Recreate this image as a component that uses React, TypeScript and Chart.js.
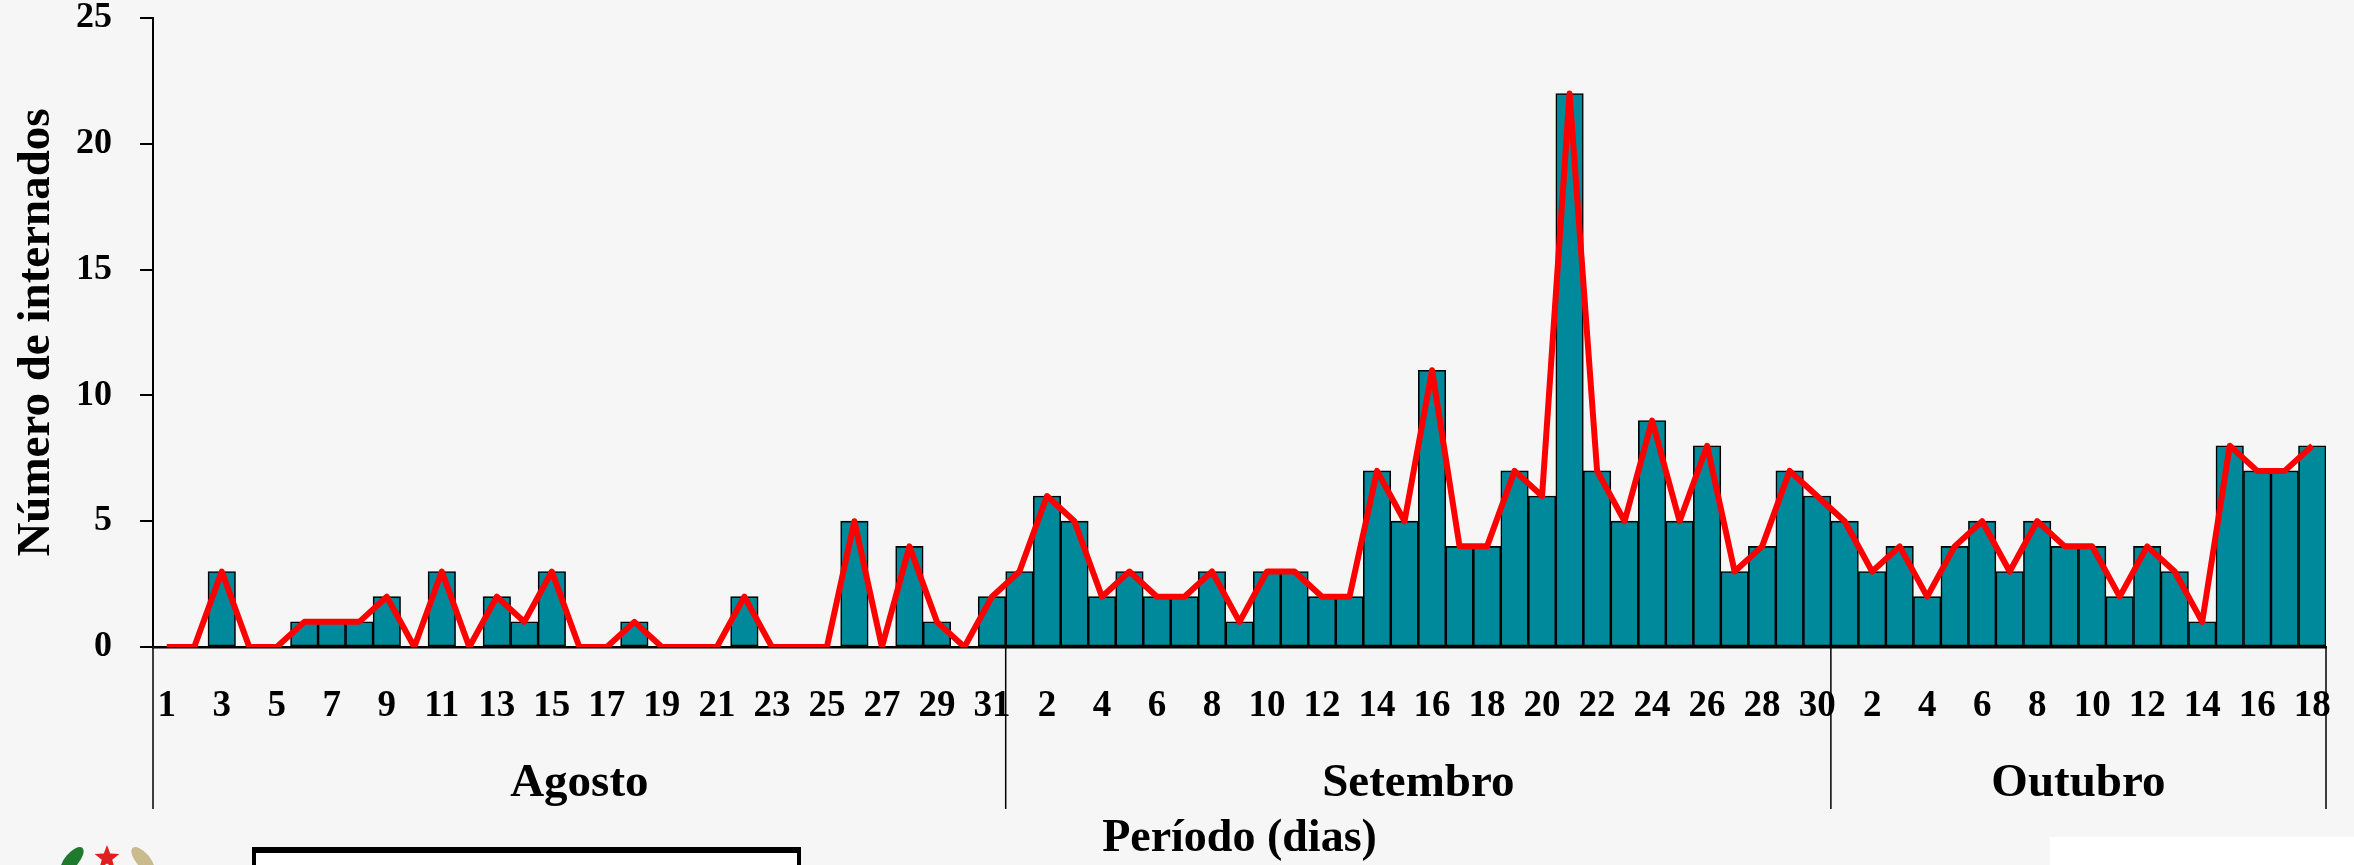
import { useEffect, useRef } from 'react';
import { Chart, registerables } from 'chart.js';

Chart.register(...registerables);

const monthNames = ['Agosto', 'Setembro', 'Outubro'];

const augustDays = [1, 2, 3, 4, 5, 6, 7, 8, 9, 10, 11, 12, 13, 14, 15, 16, 17, 18, 19, 20, 21, 22, 23, 24, 25, 26, 27, 28, 29, 30, 31];
const septemberDays = [1, 2, 3, 4, 5, 6, 7, 8, 9, 10, 11, 12, 13, 14, 15, 16, 17, 18, 19, 20, 21, 22, 23, 24, 25, 26, 27, 28, 29, 30];
const octoberDays = [1, 2, 3, 4, 5, 6, 7, 8, 9, 10, 11, 12, 13, 14, 15, 16, 17, 18];

const augustValues = [0, 0, 3, 0, 0, 1, 1, 1, 2, 0, 3, 0, 2, 1, 3, 0, 0, 1, 0, 0, 0, 2, 0, 0, 0, 5, 0, 4, 1, 0, 2];
const septemberValues = [3, 6, 5, 2, 3, 2, 2, 3, 1, 3, 3, 2, 2, 7, 5, 11, 4, 4, 7, 6, 22, 7, 5, 9, 5, 8, 3, 4, 7, 6];
const octoberValues = [5, 3, 4, 2, 4, 5, 3, 5, 4, 4, 2, 4, 3, 1, 8, 7, 7, 8];

const augustTicks = [1, 3, 5, 7, 9, 11, 13, 15, 17, 19, 21, 23, 25, 27, 29, 31];
const septemberTicks = [2, 4, 6, 8, 10, 12, 14, 16, 18, 20, 22, 24, 26, 28, 30];
const octoberTicks = [2, 4, 6, 8, 10, 12, 14, 16, 18];

const yTitle = 'Número de internados';
const xTitle = 'Período (dias)';

const FONT = '"Liberation Serif", "Times New Roman", serif';
const BAR_COLOR = '#00889b';
const LINE_COLOR = '#ff0000';
const BG = '#f6f6f6';

export default function App() {
  const ref = useRef<HTMLCanvasElement>(null);

  useEffect(() => {
    const monthDays = [augustDays, septemberDays, octoberDays];
    const monthTicks = [augustTicks, septemberTicks, octoberTicks];
    const labels: string[] = [];
    const tickText: string[] = [];
    const monthStart: number[] = [];
    monthDays.forEach((days, m) => {
      monthStart.push(labels.length);
      days.forEach((d) => {
        labels.push(String(d));
        tickText.push(monthTicks[m].includes(d) ? String(d) : '');
      });
    });
    monthStart.push(labels.length);
    const values = [...augustValues, ...septemberValues, ...octoberValues];

    const zeroPad = (s: any) => {
      s.paddingTop = 0;
      s.paddingBottom = 0;
      s.paddingLeft = 0;
      s.paddingRight = 0;
    };

    const decor = {
      id: 'decor',
      beforeDraw(chart: any) {
        const { ctx, width, height } = chart;
        ctx.save();
        ctx.fillStyle = BG;
        ctx.fillRect(0, 0, width, height);
        ctx.restore();
      },
      afterDraw(chart: any) {
        const { ctx, chartArea } = chart;
        const xs = chart.scales.x;
        const yBase = chartArea.bottom;
        ctx.save();
        // month separators
        ctx.strokeStyle = '#000';
        ctx.lineWidth = 1.5;
        monthStart.forEach((s) => {
          const px = xs.getPixelForValue(s - 0.5);
          ctx.beginPath();
          ctx.moveTo(px, yBase);
          ctx.lineTo(px, 809);
          ctx.stroke();
        });
        // month labels
        ctx.fillStyle = '#000';
        ctx.font = `bold 47px ${FONT}`;
        ctx.textAlign = 'center';
        ctx.textBaseline = 'alphabetic';
        monthNames.forEach((name, m) => {
          const a = xs.getPixelForValue(monthStart[m] - 0.5);
          const b = xs.getPixelForValue(monthStart[m + 1] - 0.5);
          ctx.fillText(name, (a + b) / 2, 796);
        });
        // bottom-right white patch
        ctx.fillStyle = '#ffffff';
        ctx.fillRect(2050, 837, 304, 28);
        // bottom box
        ctx.fillStyle = '#ffffff';
        ctx.fillRect(252, 848, 549, 17);
        ctx.fillStyle = '#000';
        ctx.fillRect(252, 847, 549, 6);
        ctx.fillRect(252, 847, 4, 18);
        ctx.fillRect(797, 847, 4, 18);
        // emblem (approximation)
        ctx.fillStyle = '#1f7a2e';
        ctx.beginPath();
        ctx.ellipse(72, 860, 7, 16, 0.7, 0, Math.PI * 2);
        ctx.fill();
        ctx.fillStyle = '#c9bb8c';
        ctx.beginPath();
        ctx.ellipse(143, 860, 7, 16, -0.7, 0, Math.PI * 2);
        ctx.fill();
        ctx.fillStyle = '#e02020';
        ctx.beginPath();
        const cx = 107, cy = 858, R = 13, r = 5.5;
        for (let i = 0; i < 10; i++) {
          const ang = -Math.PI / 2 + (i * Math.PI) / 5;
          const rad = i % 2 === 0 ? R : r;
          const px = cx + rad * Math.cos(ang);
          const py = cy + rad * Math.sin(ang);
          if (i === 0) ctx.moveTo(px, py);
          else ctx.lineTo(px, py);
        }
        ctx.closePath();
        ctx.fill();
        ctx.restore();
      },
    };

    const chart = new Chart(ref.current as HTMLCanvasElement, {
      type: 'bar',
      data: {
        labels,
        datasets: [
          {
            type: 'line',
            data: values,
            borderColor: LINE_COLOR,
            borderWidth: 6,
            pointRadius: 0,
            tension: 0,
            borderJoinStyle: 'round',
            order: 0,
          } as any,
          {
            type: 'bar',
            data: values,
            backgroundColor: BAR_COLOR,
            borderColor: '#000',
            borderWidth: 1.6,
            borderSkipped: false,
            barPercentage: 1,
            categoryPercentage: 1,
            order: 1,
          } as any,
        ],
      },
      options: {
        responsive: false,
        animation: false,
        layout: { padding: { top: 18, right: 28, left: 0, bottom: 0 } },
        plugins: {
          legend: { display: false },
          tooltip: { enabled: false },
        },
        scales: {
          x: {
            type: 'category',
            offset: true,
            grid: { display: false, drawTicks: false },
            border: { display: true, color: '#000', width: 2.5 },
            ticks: {
              autoSkip: false,
              maxRotation: 0,
              minRotation: 0,
              padding: 37,
              color: '#000',
              font: { family: FONT, size: 37, weight: 'bold', lineHeight: 1.2 },
              callback: (_v: any, i: number) => tickText[i],
            },
            title: {
              display: true,
              text: xTitle,
              color: '#000',
              font: { family: FONT, size: 46, weight: 'bold', lineHeight: 1 },
              padding: { top: 0, bottom: 3 },
            },
            afterFit: (s: any) => {
              s.height = 218;
              zeroPad(s);
            },
          },
          y: {
            min: 0,
            max: 25,
            ticks: {
              stepSize: 5,
              padding: 28,
              color: '#000',
              font: { family: FONT, size: 36, weight: 'bold', lineHeight: 1 },
            },
            grid: {
              display: true,
              drawOnChartArea: false,
              drawTicks: true,
              tickLength: 13,
              color: '#000',
              lineWidth: 2,
            },
            border: { display: true, color: '#000', width: 2 },
            title: {
              display: true,
              text: yTitle,
              color: '#000',
              font: { family: FONT, size: 47, weight: 'bold', lineHeight: 1 },
              padding: { top: 13, bottom: 0 },
            },
            afterFit: (s: any) => {
              s.width = 153;
              zeroPad(s);
            },
          },
        },
      } as any,
      plugins: [decor],
    });
    return () => chart.destroy();
  }, []);

  return (
    <div style={{ position: 'absolute', left: 0, top: 0, width: 2354, height: 865, background: BG }}>
      <canvas ref={ref} width={2354} height={865} style={{ display: 'block', width: 2354, height: 865 }} />
    </div>
  );
}
